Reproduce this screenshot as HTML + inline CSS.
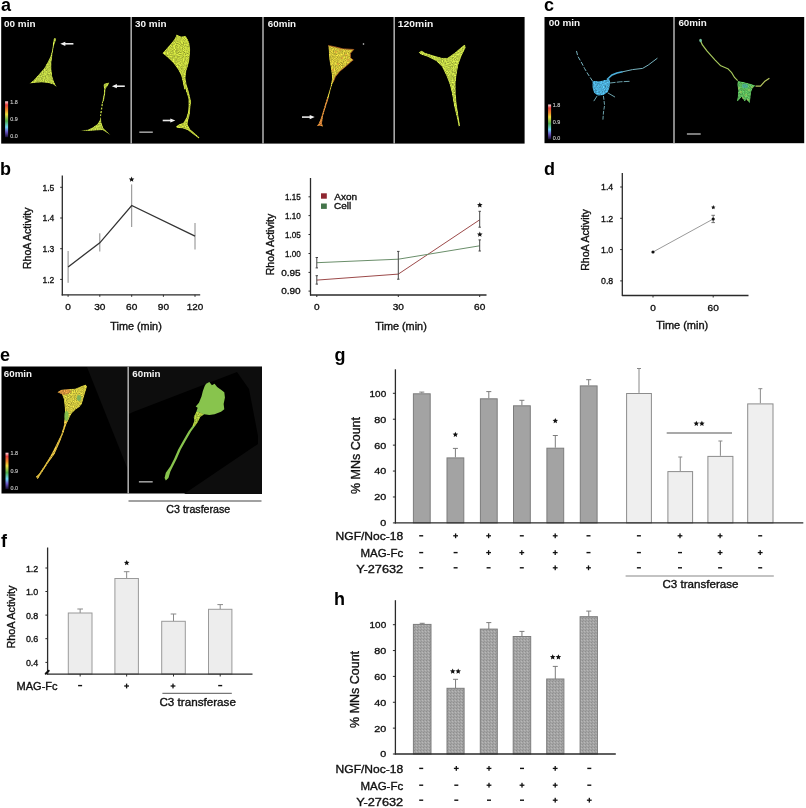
<!DOCTYPE html><html><head><meta charset="utf-8"><style>html,body{margin:0;padding:0;background:#fff;overflow:hidden;width:806px;height:808px;}svg{display:block;will-change:transform;}text{font-family:"Liberation Sans",sans-serif;}</style></head><body>
<svg width="806" height="808" viewBox="0 0 806 808">
<defs>
<linearGradient id="cbar" x1="0" y1="0" x2="0" y2="1"><stop offset="0" stop-color="#ffd8e0"/><stop offset="0.1" stop-color="#e84040"/><stop offset="0.24" stop-color="#f08a28"/><stop offset="0.36" stop-color="#f0e040"/><stop offset="0.55" stop-color="#50b050"/><stop offset="0.72" stop-color="#70d8f8"/><stop offset="0.85" stop-color="#6a58c8"/><stop offset="1" stop-color="#180c38"/></linearGradient>
<filter id="soft" x="-10%" y="-10%" width="120%" height="120%"><feGaussianBlur stdDeviation="0.35"/></filter>
<filter id="tex" x="-10%" y="-10%" width="120%" height="120%" color-interpolation-filters="sRGB"><feTurbulence type="fractalNoise" baseFrequency="0.9" numOctaves="2" seed="4" result="n"/><feColorMatrix in="n" type="matrix" values="1 0 0 0 0  1 0 0 0 0  1 0 0 0 0  0 0 0 0 1" result="g"/><feComposite in="SourceGraphic" in2="g" operator="arithmetic" k1="0.8" k2="0.56" k3="0" k4="0" result="m"/><feComposite in="m" in2="SourceAlpha" operator="in" result="c"/><feGaussianBlur in="c" stdDeviation="0.35"/></filter>
<pattern id="stip" width="3" height="3" patternUnits="userSpaceOnUse"><rect width="3" height="3" fill="#a4a4a4"/><rect x="0" y="0" width="1" height="1" fill="#8e8e8e"/><rect x="2" y="1" width="1" height="1" fill="#b8b8b8"/><rect x="1" y="2" width="1" height="1" fill="#969696"/></pattern>
</defs>
<rect width="806" height="808" fill="#fff"/>
<text x="1" y="10.5" font-size="18" text-anchor="start" font-weight="bold" fill="#000" >a</text>
<text x="544" y="10.5" font-size="18" text-anchor="start" font-weight="bold" fill="#000" >c</text>
<text x="0" y="175" font-size="18" text-anchor="start" font-weight="bold" fill="#000" >b</text>
<text x="544" y="174.5" font-size="18" text-anchor="start" font-weight="bold" fill="#000" >d</text>
<text x="0" y="361" font-size="18" text-anchor="start" font-weight="bold" fill="#000" >e</text>
<text x="1" y="547.3" font-size="18" text-anchor="start" font-weight="bold" fill="#000" >f</text>
<text x="334.5" y="360.5" font-size="18" text-anchor="start" font-weight="bold" fill="#000" >g</text>
<text x="334" y="604.5" font-size="18" text-anchor="start" font-weight="bold" fill="#000" >h</text>
<rect x="1.2" y="17" width="523.4" height="126.6" fill="#000" />
<rect x="130.39999999999998" y="17" width="1.6" height="126.6" fill="#a8a8a8" />
<rect x="262.2" y="17" width="1.6" height="126.6" fill="#a8a8a8" />
<rect x="393.4" y="17" width="1.6" height="126.6" fill="#a8a8a8" />
<text x="4" y="27.2" font-size="9" text-anchor="start" font-weight="bold" fill="#f4f4f4" textLength="31.5" lengthAdjust="spacingAndGlyphs" >00 min</text>
<text x="135" y="27" font-size="9" text-anchor="start" font-weight="bold" fill="#f4f4f4" textLength="31.5" lengthAdjust="spacingAndGlyphs" >30 min</text>
<text x="267.8" y="27" font-size="9" text-anchor="start" font-weight="bold" fill="#f4f4f4" textLength="28.3" lengthAdjust="spacingAndGlyphs" >60min</text>
<text x="397.8" y="27" font-size="9" text-anchor="start" font-weight="bold" fill="#f4f4f4" textLength="35.5" lengthAdjust="spacingAndGlyphs" >120min</text>
<rect x="5.1" y="101.3" width="3" height="35.89999999999999" fill="url(#cbar)" />
<text x="10.2" y="103.8" font-size="5.4" text-anchor="start" font-weight="normal" fill="#c4c4c4" stroke="#c4c4c4" stroke-width="0.15" >1.8</text>
<text x="10.2" y="121.25" font-size="5.4" text-anchor="start" font-weight="normal" fill="#c4c4c4" stroke="#c4c4c4" stroke-width="0.15" >0.9</text>
<text x="10.2" y="137.7" font-size="5.4" text-anchor="start" font-weight="normal" fill="#c4c4c4" stroke="#c4c4c4" stroke-width="0.15" >0.0</text>
<polygon points="54.25,38.06 56.29,38.4 55.95,40.44 54.25,45.2 52.89,52.01 52.21,57.45 51.53,62.21 51.53,69.01 52.21,75.82 54.25,81.94 56.97,87.38 53.57,84.66 48.81,83.3 42.01,82.62 33.84,82.96 29.08,83.64 33.16,80.58 38.61,74.46 44.05,68.33 47.45,62.21 50.17,56.77 51.87,50.65 52.89,43.84 53.57,39.08" fill="#bfd444" filter="url(#tex)"/>
<polygon points="103.79,83.76 109.55,82.22 108.01,85.68 105.71,88.75 105.33,93.36 104.17,100.26 102.26,104.1 101.49,104.49 102.64,99.5 103.79,93.36 104.17,88.75 103.41,85.68" fill="#bfd444" filter="url(#tex)"/>
<polyline points="102.3,104.1 101.6,108.5 101.1,112.5 100.4,116" stroke="#bfd444" stroke-width="1.3" stroke-dasharray="2 1.5" fill="none" filter="url(#soft)"/>
<polygon points="100.72,116.39 99.57,120.23 97.26,124.07 92.66,127.14 88.05,129.44 79.61,130.59 88.82,130.98 102.64,130.21 111.08,135.58 107.25,131.74 103.41,127.9 101.49,122.53 101.1,117.92" fill="#bfd444" filter="url(#tex)"/>
<line x1="64.3" y1="43.8" x2="73.4" y2="43.8" stroke="#e8e8e8" stroke-width="1.6"/>
<polygon points="60.3,43.8 65.3,41.699999999999996 65.3,45.9" fill="#f4f4f4" />
<line x1="115.9" y1="86.2" x2="124.8" y2="86.2" stroke="#e8e8e8" stroke-width="1.6"/>
<polygon points="111.9,86.2 116.9,84.10000000000001 116.9,88.3" fill="#f4f4f4" />
<polygon points="176.43,34.14 181.04,36.45 185.65,35.68 187.95,39.52 189.49,43.36 190.26,49.51 189.87,54.88 189.49,60.26 187.95,66.4 186.42,71.01 185.65,77.92 186.8,84.84 187.19,89.44 184.11,89.44 182.58,81.76 181.04,75.62 177.97,69.47 173.36,63.33 167.22,57.19 162.22,53.35 165.68,49.51 171.06,43.36 174.13,39.52 176.05,35.68" fill="#c6d63e" filter="url(#tex)"/>
<polygon points="186.94,85.0 189.05,92.06 191.17,101.23 190.47,108.29 189.76,115.35 188.35,120.29 187.64,124.52 190.47,129.46 194.7,132.99 199.64,137.58 198.93,138.63 193.29,134.4 187.64,130.17 182.7,128.4 177.06,128.05 175.65,126.64 178.47,124.52 183.41,122.4 186.23,117.46 188.0,111.82 188.35,106.17 188.35,99.11 186.23,92.06 184.47,85.0" fill="#c6d63e" filter="url(#tex)"/>
<line x1="162.7" y1="120.5" x2="171.3" y2="120.5" stroke="#e8e8e8" stroke-width="1.6"/>
<polygon points="175.3,120.5 170.3,118.4 170.3,122.6" fill="#f4f4f4" />
<rect x="139.3" y="131.4" width="13.5" height="1.6" fill="#9a9a9a" />
<polygon points="328.15,45.57 334.27,46.68 343.18,48.91 353.76,49.47 350.42,53.36 350.42,57.82 353.2,60.04 350.98,61.71 345.41,66.73 339.84,71.18 335.39,76.75 333.16,82.32 330.93,89.0 328.7,97.91 325.92,106.82 323.14,115.72 322.02,123.52 323.14,126.86 319.8,125.75 316.45,126.3 318.68,123.52 320.91,117.95 324.25,106.82 327.59,95.68 330.37,86.77 332.04,77.86 330.93,68.95 329.26,60.04 328.7,51.14" fill="#d6c83a" filter="url(#tex)"/>
<polygon points="328.7,97.91 325.92,106.82 323.14,115.72 322.02,123.52 323.14,126.86 319.8,125.75 316.45,126.3 318.68,123.52 320.91,117.95 324.25,106.82 327.03,97.91" fill="#e0883a" filter="url(#tex)"/>
<circle cx="336" cy="52" r="0.9" fill="#e08a38" opacity="0.7"/>
<circle cx="342" cy="58" r="0.9" fill="#e08a38" opacity="0.7"/>
<circle cx="338" cy="64" r="0.9" fill="#e08a38" opacity="0.7"/>
<circle cx="346" cy="55" r="0.9" fill="#e08a38" opacity="0.7"/>
<circle cx="333" cy="70" r="0.9" fill="#e08a38" opacity="0.7"/>
<circle cx="340" cy="50" r="0.9" fill="#e08a38" opacity="0.7"/>
<circle cx="348" cy="60" r="0.9" fill="#e08a38" opacity="0.7"/>
<polyline points="328.15,45.57 334.27,46.68 343.18,48.91 353.76,49.47 350.42,53.36 350.42,57.82 353.2,60.04 350.98,61.71 345.41,66.73 339.84,71.18 335.39,76.75 333.16,82.32" fill="none" stroke="#d8782c" stroke-width="0.9" opacity="0.8" filter="url(#soft)"/>
<line x1="302" y1="117.1" x2="310.7" y2="117.1" stroke="#e8e8e8" stroke-width="1.6"/>
<polygon points="314.7,117.1 309.7,115.0 309.7,119.19999999999999" fill="#f4f4f4" />
<circle cx="363.5" cy="44" r="0.8" fill="#ddd"/>
<polygon points="418.45,52.25 421.8,50.58 425.14,52.81 434.04,55.59 441.84,57.82 447.41,57.82 455.2,52.25 463.0,45.57 465.22,44.45 465.78,47.8 461.88,55.59 458.54,64.5 456.87,73.41 455.76,82.32 455.76,93.45 456.87,104.59 458.54,115.72 460.21,125.75 458.54,126.86 456.87,117.95 454.09,106.82 451.86,93.45 449.63,84.54 446.29,75.63 441.84,66.73 436.27,61.16 427.36,56.7 420.68,54.48" fill="#c4d846" filter="url(#tex)"/>
<rect x="544.5" y="17" width="259.7" height="126.2" fill="#000" />
<rect x="673.2" y="17" width="1.6" height="126.2" fill="#a8a8a8" />
<text x="548.7" y="26" font-size="9" text-anchor="start" font-weight="bold" fill="#f4f4f4" textLength="31.5" lengthAdjust="spacingAndGlyphs" >00 min</text>
<text x="678.4" y="26" font-size="9" text-anchor="start" font-weight="bold" fill="#f4f4f4" textLength="28.4" lengthAdjust="spacingAndGlyphs" >60min</text>
<rect x="548.0999999999999" y="104.5" width="3" height="34.69999999999999" fill="url(#cbar)" />
<text x="552.8" y="107.0" font-size="5.4" text-anchor="start" font-weight="normal" fill="#c4c4c4" stroke="#c4c4c4" stroke-width="0.15" >1.8</text>
<text x="552.8" y="123.85" font-size="5.4" text-anchor="start" font-weight="normal" fill="#c4c4c4" stroke="#c4c4c4" stroke-width="0.15" >0.9</text>
<text x="552.8" y="139.7" font-size="5.4" text-anchor="start" font-weight="normal" fill="#c4c4c4" stroke="#c4c4c4" stroke-width="0.15" >0.0</text>
<g filter="url(#soft)" stroke="#78b4c0" fill="none" stroke-linecap="round" stroke-linejoin="round">
<polyline points="592.3,80.7 587.9,74 584.5,68.4 582.3,64 577.8,56.2 576.1,49.5" stroke-width="1" stroke-dasharray="3.5 2.5"/>
<polyline points="622.5,71.8 632.5,69.6 642.6,68.4 648.2,65.1 657.1,58.4" stroke-width="1"/>
<polyline points="610.2,83 620.2,81.8 630.3,81.3" stroke-width="0.9" stroke-dasharray="5 2"/>
<polyline points="608,93 614.7,96.9" stroke-width="0.9"/>
<polyline points="603.5,96.4 604.6,105.3 603.5,112 602.9,119.8" stroke-width="0.9" stroke-dasharray="3 2"/>
<polyline points="596.8,96.4 594,100.8" stroke-width="0.9"/>
</g>
<polyline points="607,79.5 612,75 616.9,72.9 622.5,71.8" stroke="#4cb0dc" stroke-width="1.6" fill="none" filter="url(#soft)"/>
<polygon points="592.33,80.73 599.03,81.29 606.85,79.61 609.08,77.38 610.2,81.85 609.64,87.43 607.96,91.9 603.5,95.25 597.91,95.8 594.01,93.01 592.33,87.43" fill="#4cb0dc" filter="url(#tex)"/>
<polyline points="700,39.5 702.4,44.9 706.9,50.9 714.9,59.8 720.8,65.8 727.8,68.7 731.7,72.7 734.7,77.7 737.7,80.7" stroke="#a6c85c" stroke-width="1.2" fill="none" stroke-linejoin="round" filter="url(#soft)"/>
<ellipse cx="700.6" cy="40.5" rx="1.3" ry="1.8" fill="#70c0a0" filter="url(#soft)"/>
<polyline points="755.5,86.1 760.5,86.1 764.5,81.6 769.4,78.2" stroke="#b8c860" stroke-width="1.2" fill="none" stroke-linejoin="round" filter="url(#soft)"/>
<polygon points="737.68,80.66 744.63,82.15 750.58,83.64 755.55,85.62 752.57,88.6 751.08,92.57 750.58,98.52 749.59,103.49 746.61,99.52 744.63,101.5 741.65,97.03 738.67,100.51 736.69,101.5 737.68,96.54 738.18,90.58 737.18,84.63" fill="#5cbc5c" filter="url(#tex)"/>
<ellipse cx="745" cy="86" rx="3" ry="2.2" fill="#4aa8a0" opacity="0.7" filter="url(#soft)"/>
<circle cx="741" cy="92" r="0.8" fill="#c8d860" opacity="0.9"/>
<circle cx="746" cy="95" r="0.8" fill="#c8d860" opacity="0.9"/>
<circle cx="749" cy="90" r="0.8" fill="#c8d860" opacity="0.9"/>
<circle cx="743" cy="98" r="0.8" fill="#c8d860" opacity="0.9"/>
<circle cx="739" cy="88" r="0.8" fill="#c8d860" opacity="0.9"/>
<circle cx="748" cy="100" r="0.8" fill="#c8d860" opacity="0.9"/>
<circle cx="752" cy="87" r="0.8" fill="#c8d860" opacity="0.9"/>
<rect x="686.9" y="133.2" width="13.8" height="1.6" fill="#9a9a9a" />
<rect x="1.5" y="366.5" width="260.5" height="127" fill="#000" />
<polygon points="87,367 128,367 128,470" fill="#0d0d0d" />
<polygon points="129,367 262,367 262,494 184,494 258,444 258,436 249,389 237,372 133,412 129,414" fill="#0d0d0d" />
<rect x="127.4" y="366.5" width="1.6" height="127" fill="#a8a8a8" />
<text x="3.8" y="376.8" font-size="9" text-anchor="start" font-weight="bold" fill="#f4f4f4" textLength="28.2" lengthAdjust="spacingAndGlyphs" >60min</text>
<text x="132.3" y="376.8" font-size="9" text-anchor="start" font-weight="bold" fill="#f4f4f4" textLength="28.2" lengthAdjust="spacingAndGlyphs" >60min</text>
<rect x="5.5" y="452.7" width="3" height="36.400000000000034" fill="url(#cbar)" />
<text x="10.5" y="455.2" font-size="5.4" text-anchor="start" font-weight="normal" fill="#c4c4c4" stroke="#c4c4c4" stroke-width="0.15" >1.8</text>
<text x="10.5" y="472.9" font-size="5.4" text-anchor="start" font-weight="normal" fill="#c4c4c4" stroke="#c4c4c4" stroke-width="0.15" >0.9</text>
<text x="10.5" y="489.6" font-size="5.4" text-anchor="start" font-weight="normal" fill="#c4c4c4" stroke="#c4c4c4" stroke-width="0.15" >0.0</text>
<polygon points="57.27,392.34 61.17,389.74 68.96,389.09 75.45,388.44 81.95,385.84 85.84,384.55 87.14,386.49 85.19,392.99 83.25,399.48 81.95,404.03 79.35,407.27 75.45,409.87 71.56,413.77 68.96,418.96 66.36,424.16 63.77,431.95 59.87,442.34 54.68,454.03 48.18,463.12 42.99,470.91 39.74,476.1 37.79,479.35 35.84,476.75 39.09,473.51 44.29,465.71 50.78,455.32 55.97,444.94 61.17,434.55 63.77,425.45 64.42,418.96 65.06,412.47 64.42,405.97 63.77,399.48 61.82,394.29" fill="#d6cc40" filter="url(#tex)"/>
<polygon points="68.96,418.96 66.36,424.16 63.77,431.95 59.87,442.34 54.68,454.03 48.18,463.12 42.99,470.91 39.74,476.1 37.79,479.35 35.84,476.75 39.09,473.51 44.29,465.71 50.78,455.32 55.97,444.94 61.17,434.55 63.77,425.45 64.42,418.96" fill="#e0bc40" filter="url(#tex)"/>
<polygon points="57.27,392.34 61.17,389.74 68.96,389.09 71.56,391.69 67.66,394.29 63.12,394.94" fill="#e09a40" filter="url(#tex)"/>
<ellipse cx="66.5" cy="416" rx="2.2" ry="5" fill="#78bc50" opacity="0.85" filter="url(#soft)"/>
<ellipse cx="79" cy="398" rx="2.2" ry="3" fill="#6cb060" opacity="0.8" filter="url(#soft)"/>
<polygon points="206.1,383.84 209.35,381.9 211.95,385.14 214.55,383.84 217.14,387.09 221.04,389.69 224.29,392.29 224.94,397.48 223.64,403.97 224.29,409.17 221.04,411.77 214.55,414.36 209.35,415.01 204.16,414.36 200.26,416.96 197.66,422.16 195.06,426.05 191.17,431.25 185.97,440.34 180.78,449.43 176.88,458.52 172.99,466.31 170.39,471.51 168.44,478.0 165.84,480.6 164.55,478.0 165.84,472.81 170.39,466.31 174.29,458.52 178.18,449.43 183.38,440.34 188.57,431.25 192.47,426.05 194.42,420.86 193.77,416.96 196.36,411.77 197.66,407.87 195.71,406.57 198.96,402.68 201.56,396.18 202.86,390.99 204.81,385.79" fill="#88c44e" filter="url(#soft)"/>
<polygon points="204.16,414.36 200.26,416.96 197.66,422.16 195.06,426.05 192.47,426.05 194.42,420.86 193.77,416.96 196.36,411.77 198.96,412.03" fill="#b4d040" filter="url(#tex)"/>
<rect x="138.9" y="481" width="13.8" height="1.6" fill="#9a9a9a" />
<line x1="128.5" y1="501" x2="261.5" y2="501" stroke="#444" stroke-width="1.2"/>
<text x="198.3" y="513.1" font-size="10.5" text-anchor="middle" font-weight="normal" fill="#111" stroke="#111" stroke-width="0.35" textLength="64" lengthAdjust="spacingAndGlyphs" >C3 trasferase</text>
<line x1="62.3" y1="175.5" x2="62.3" y2="295.4" stroke="#2a2a2a" stroke-width="1.3"/>
<line x1="61.7" y1="294.8" x2="200.2" y2="294.8" stroke="#2a2a2a" stroke-width="1.3"/>
<line x1="60.2" y1="187.3" x2="62.3" y2="187.3" stroke="#2a2a2a" stroke-width="1"/>
<text x="54.3" y="190.70000000000002" font-size="9.9" text-anchor="end" font-weight="normal" fill="#111" stroke="#111" stroke-width="0.35" textLength="11.8" lengthAdjust="spacingAndGlyphs" >1.5</text>
<line x1="60.2" y1="218" x2="62.3" y2="218" stroke="#2a2a2a" stroke-width="1"/>
<text x="54.3" y="221.4" font-size="9.9" text-anchor="end" font-weight="normal" fill="#111" stroke="#111" stroke-width="0.35" textLength="11.8" lengthAdjust="spacingAndGlyphs" >1.4</text>
<line x1="60.2" y1="248.7" x2="62.3" y2="248.7" stroke="#2a2a2a" stroke-width="1"/>
<text x="54.3" y="252.1" font-size="9.9" text-anchor="end" font-weight="normal" fill="#111" stroke="#111" stroke-width="0.35" textLength="11.8" lengthAdjust="spacingAndGlyphs" >1.3</text>
<line x1="60.2" y1="279.4" x2="62.3" y2="279.4" stroke="#2a2a2a" stroke-width="1"/>
<text x="54.3" y="282.79999999999995" font-size="9.9" text-anchor="end" font-weight="normal" fill="#111" stroke="#111" stroke-width="0.35" textLength="11.8" lengthAdjust="spacingAndGlyphs" >1.2</text>
<line x1="68.1" y1="294.8" x2="68.1" y2="296.8" stroke="#2a2a2a" stroke-width="1"/>
<text x="68.1" y="310.2" font-size="9.9" text-anchor="middle" font-weight="normal" fill="#111" stroke="#111" stroke-width="0.35" textLength="5.6" lengthAdjust="spacingAndGlyphs" >0</text>
<line x1="99.8" y1="294.8" x2="99.8" y2="296.8" stroke="#2a2a2a" stroke-width="1"/>
<text x="99.8" y="310.2" font-size="9.9" text-anchor="middle" font-weight="normal" fill="#111" stroke="#111" stroke-width="0.35" textLength="11.2" lengthAdjust="spacingAndGlyphs" >30</text>
<line x1="131.7" y1="294.8" x2="131.7" y2="296.8" stroke="#2a2a2a" stroke-width="1"/>
<text x="131.7" y="310.2" font-size="9.9" text-anchor="middle" font-weight="normal" fill="#111" stroke="#111" stroke-width="0.35" textLength="11.2" lengthAdjust="spacingAndGlyphs" >60</text>
<line x1="163.4" y1="294.8" x2="163.4" y2="296.8" stroke="#2a2a2a" stroke-width="1"/>
<text x="163.4" y="310.2" font-size="9.9" text-anchor="middle" font-weight="normal" fill="#111" stroke="#111" stroke-width="0.35" textLength="11.2" lengthAdjust="spacingAndGlyphs" >90</text>
<line x1="195" y1="294.8" x2="195" y2="296.8" stroke="#2a2a2a" stroke-width="1"/>
<text x="195" y="310.2" font-size="9.9" text-anchor="middle" font-weight="normal" fill="#111" stroke="#111" stroke-width="0.35" textLength="16.5" lengthAdjust="spacingAndGlyphs" >120</text>
<text x="136" y="329.6" font-size="10.3" text-anchor="middle" font-weight="normal" fill="#111" stroke="#111" stroke-width="0.35" textLength="51.5" lengthAdjust="spacingAndGlyphs" >Time (min)</text>
<text x="0" y="0" font-size="10" text-anchor="middle" fill="#111" transform="translate(27,238.3) rotate(-90)" dominant-baseline="central" stroke="#111" stroke-width="0.35" textLength="61.5" lengthAdjust="spacingAndGlyphs">RhoA Activity</text>
<line x1="68.1" y1="251" x2="68.1" y2="282.8" stroke="#8a8a8a" stroke-width="1"/>
<line x1="99.8" y1="233.3" x2="99.8" y2="251.5" stroke="#8a8a8a" stroke-width="1"/>
<line x1="131.7" y1="184.4" x2="131.7" y2="227" stroke="#8a8a8a" stroke-width="1"/>
<line x1="195" y1="223" x2="195" y2="249.5" stroke="#8a8a8a" stroke-width="1"/>
<polyline points="68.1,266.9 99.8,242.8 131.7,205.5 195,236.2" fill="none" stroke="#333" stroke-width="1.3"/>
<polygon points="131.6,176.6 132.39,178.41 134.36,178.6 132.88,179.92 133.3,181.85 131.6,180.85 129.9,181.85 130.32,179.92 128.84,178.6 130.81,178.41" fill="#111" />
<line x1="310.5" y1="178" x2="310.5" y2="295.5" stroke="#2a2a2a" stroke-width="1.3"/>
<line x1="310" y1="295" x2="486.5" y2="295" stroke="#2a2a2a" stroke-width="1.3"/>
<line x1="308.5" y1="196.8" x2="310.5" y2="196.8" stroke="#2a2a2a" stroke-width="1"/>
<text x="300.7" y="200.10000000000002" font-size="9.9" text-anchor="end" font-weight="normal" fill="#111" stroke="#111" stroke-width="0.35" textLength="15.8" lengthAdjust="spacingAndGlyphs" >1.15</text>
<line x1="308.5" y1="215.6" x2="310.5" y2="215.6" stroke="#2a2a2a" stroke-width="1"/>
<text x="300.7" y="218.9" font-size="9.9" text-anchor="end" font-weight="normal" fill="#111" stroke="#111" stroke-width="0.35" textLength="15.8" lengthAdjust="spacingAndGlyphs" >1.10</text>
<line x1="308.5" y1="234.5" x2="310.5" y2="234.5" stroke="#2a2a2a" stroke-width="1"/>
<text x="300.7" y="237.8" font-size="9.9" text-anchor="end" font-weight="normal" fill="#111" stroke="#111" stroke-width="0.35" textLength="15.8" lengthAdjust="spacingAndGlyphs" >1.05</text>
<line x1="308.5" y1="253.5" x2="310.5" y2="253.5" stroke="#2a2a2a" stroke-width="1"/>
<text x="300.7" y="256.8" font-size="9.9" text-anchor="end" font-weight="normal" fill="#111" stroke="#111" stroke-width="0.35" textLength="15.8" lengthAdjust="spacingAndGlyphs" >1.00</text>
<line x1="308.5" y1="272.4" x2="310.5" y2="272.4" stroke="#2a2a2a" stroke-width="1"/>
<text x="300.7" y="275.7" font-size="9.9" text-anchor="end" font-weight="normal" fill="#111" stroke="#111" stroke-width="0.35" textLength="19.5" lengthAdjust="spacingAndGlyphs" >0.95</text>
<line x1="308.5" y1="291.1" x2="310.5" y2="291.1" stroke="#2a2a2a" stroke-width="1"/>
<text x="300.7" y="294.40000000000003" font-size="9.9" text-anchor="end" font-weight="normal" fill="#111" stroke="#111" stroke-width="0.35" textLength="19.5" lengthAdjust="spacingAndGlyphs" >0.90</text>
<line x1="316.8" y1="295" x2="316.8" y2="297" stroke="#2a2a2a" stroke-width="1"/>
<text x="316.8" y="310.2" font-size="9.9" text-anchor="middle" font-weight="normal" fill="#111" stroke="#111" stroke-width="0.35" textLength="5.6" lengthAdjust="spacingAndGlyphs" >0</text>
<line x1="398.3" y1="295" x2="398.3" y2="297" stroke="#2a2a2a" stroke-width="1"/>
<text x="398.3" y="310.2" font-size="9.9" text-anchor="middle" font-weight="normal" fill="#111" stroke="#111" stroke-width="0.35" textLength="11.2" lengthAdjust="spacingAndGlyphs" >30</text>
<line x1="479.7" y1="295" x2="479.7" y2="297" stroke="#2a2a2a" stroke-width="1"/>
<text x="479.7" y="310.2" font-size="9.9" text-anchor="middle" font-weight="normal" fill="#111" stroke="#111" stroke-width="0.35" textLength="11.2" lengthAdjust="spacingAndGlyphs" >60</text>
<text x="401" y="329.5" font-size="10.3" text-anchor="middle" font-weight="normal" fill="#111" stroke="#111" stroke-width="0.35" textLength="51.5" lengthAdjust="spacingAndGlyphs" >Time (min)</text>
<text x="0" y="0" font-size="10" text-anchor="middle" fill="#111" transform="translate(270,244.5) rotate(-90)" dominant-baseline="central" stroke="#111" stroke-width="0.35" textLength="61.5" lengthAdjust="spacingAndGlyphs">RhoA Activity</text>
<polyline points="316.8,280.1 398.3,274.1 479.7,219.8" fill="none" stroke="#9c4a4a" stroke-width="1"/>
<polyline points="316.8,262.7 398.3,259.2 479.7,245.8" fill="none" stroke="#6a8e6a" stroke-width="1"/>
<line x1="316.8" y1="275.7" x2="316.8" y2="284.1" stroke="#444" stroke-width="1"/>
<line x1="315.6" y1="275.7" x2="318.0" y2="275.7" stroke="#444" stroke-width="1"/>
<line x1="315.6" y1="284.1" x2="318.0" y2="284.1" stroke="#444" stroke-width="1"/>
<line x1="316.8" y1="257.5" x2="316.8" y2="267.9" stroke="#444" stroke-width="1"/>
<line x1="315.6" y1="257.5" x2="318.0" y2="257.5" stroke="#444" stroke-width="1"/>
<line x1="315.6" y1="267.9" x2="318.0" y2="267.9" stroke="#444" stroke-width="1"/>
<line x1="398.3" y1="251.4" x2="398.3" y2="279.2" stroke="#444" stroke-width="1"/>
<line x1="397.1" y1="251.4" x2="399.5" y2="251.4" stroke="#444" stroke-width="1"/>
<line x1="397.1" y1="279.2" x2="399.5" y2="279.2" stroke="#444" stroke-width="1"/>
<line x1="479.7" y1="211.3" x2="479.7" y2="227.2" stroke="#444" stroke-width="1"/>
<line x1="478.5" y1="211.3" x2="480.9" y2="211.3" stroke="#444" stroke-width="1"/>
<line x1="478.5" y1="227.2" x2="480.9" y2="227.2" stroke="#444" stroke-width="1"/>
<line x1="479.7" y1="239.9" x2="479.7" y2="251" stroke="#444" stroke-width="1"/>
<line x1="478.5" y1="239.9" x2="480.9" y2="239.9" stroke="#444" stroke-width="1"/>
<line x1="478.5" y1="251" x2="480.9" y2="251" stroke="#444" stroke-width="1"/>
<polygon points="479.8,202.3 480.59,204.11 482.56,204.3 481.08,205.62 481.5,207.55 479.8,206.55 478.1,207.55 478.52,205.62 477.04,204.3 479.01,204.11" fill="#111" />
<polygon points="479.8,231.6 480.59,233.41 482.56,233.6 481.08,234.92 481.5,236.85 479.8,235.85 478.1,236.85 478.52,234.92 477.04,233.6 479.01,233.41" fill="#111" />
<rect x="321" y="193.3" width="5.8" height="5.4" fill="#8e2630" />
<rect x="321" y="203.5" width="5.8" height="5.4" fill="#44744a" />
<text x="334.3" y="199.6" font-size="9.6" text-anchor="start" font-weight="normal" fill="#111" stroke="#111" stroke-width="0.35" textLength="22.9" lengthAdjust="spacingAndGlyphs" >Axon</text>
<text x="334.1" y="209.3" font-size="9.6" text-anchor="start" font-weight="normal" fill="#111" stroke="#111" stroke-width="0.35" textLength="17.2" lengthAdjust="spacingAndGlyphs" >Cell</text>
<line x1="622.3" y1="173" x2="622.3" y2="296" stroke="#2a2a2a" stroke-width="1.3"/>
<line x1="622" y1="295.5" x2="748.5" y2="295.5" stroke="#2a2a2a" stroke-width="1.3"/>
<line x1="620.2" y1="187" x2="622.3" y2="187" stroke="#2a2a2a" stroke-width="1"/>
<text x="613.2" y="190.3" font-size="9.9" text-anchor="end" font-weight="normal" fill="#111" stroke="#111" stroke-width="0.35" textLength="12.2" lengthAdjust="spacingAndGlyphs" >1.4</text>
<line x1="620.2" y1="218.3" x2="622.3" y2="218.3" stroke="#2a2a2a" stroke-width="1"/>
<text x="613.2" y="221.60000000000002" font-size="9.9" text-anchor="end" font-weight="normal" fill="#111" stroke="#111" stroke-width="0.35" textLength="12.2" lengthAdjust="spacingAndGlyphs" >1.2</text>
<line x1="620.2" y1="249.6" x2="622.3" y2="249.6" stroke="#2a2a2a" stroke-width="1"/>
<text x="613.2" y="252.9" font-size="9.9" text-anchor="end" font-weight="normal" fill="#111" stroke="#111" stroke-width="0.35" textLength="12.2" lengthAdjust="spacingAndGlyphs" >1.0</text>
<line x1="620.2" y1="280.9" x2="622.3" y2="280.9" stroke="#2a2a2a" stroke-width="1"/>
<text x="613.2" y="284.2" font-size="9.9" text-anchor="end" font-weight="normal" fill="#111" stroke="#111" stroke-width="0.35" textLength="12.2" lengthAdjust="spacingAndGlyphs" >0.8</text>
<line x1="653" y1="295.5" x2="653" y2="297.5" stroke="#2a2a2a" stroke-width="1"/>
<text x="653" y="310.6" font-size="9.9" text-anchor="middle" font-weight="normal" fill="#111" stroke="#111" stroke-width="0.35" textLength="5.6" lengthAdjust="spacingAndGlyphs" >0</text>
<line x1="713.2" y1="295.5" x2="713.2" y2="297.5" stroke="#2a2a2a" stroke-width="1"/>
<text x="713.2" y="310.6" font-size="9.9" text-anchor="middle" font-weight="normal" fill="#111" stroke="#111" stroke-width="0.35" textLength="11.2" lengthAdjust="spacingAndGlyphs" >60</text>
<text x="682.2" y="329.3" font-size="10.3" text-anchor="middle" font-weight="normal" fill="#111" stroke="#111" stroke-width="0.35" textLength="52" lengthAdjust="spacingAndGlyphs" >Time (min)</text>
<text x="0" y="0" font-size="10" text-anchor="middle" fill="#111" transform="translate(585.7,240) rotate(-90)" dominant-baseline="central" stroke="#111" stroke-width="0.35" textLength="61.5" lengthAdjust="spacingAndGlyphs">RhoA Activity</text>
<line x1="653" y1="252" x2="713.2" y2="219" stroke="#9a9a9a" stroke-width="1"/>
<line x1="713.2" y1="215.3" x2="713.2" y2="222.6" stroke="#555" stroke-width="0.8"/>
<line x1="711.4000000000001" y1="215.3" x2="715.0" y2="215.3" stroke="#555" stroke-width="0.8"/>
<line x1="711.4000000000001" y1="222.6" x2="715.0" y2="222.6" stroke="#555" stroke-width="0.8"/>
<circle cx="653" cy="252" r="1.6" fill="#111"/><circle cx="713.2" cy="219" r="1.6" fill="#111"/>
<polygon points="713.3,205.1 713.92,206.55 715.49,206.69 714.3,207.72 714.65,209.26 713.3,208.45 711.95,209.26 712.3,207.72 711.11,206.69 712.68,206.55" fill="#111" />
<line x1="47.6" y1="547.5" x2="47.6" y2="674.5" stroke="#2a2a2a" stroke-width="1.3"/>
<path d="M45.7,673.8 L48.7,670.7" stroke="#111" stroke-width="2" stroke-linecap="round"/>
<line x1="45.4" y1="568" x2="47.6" y2="568" stroke="#2a2a2a" stroke-width="1"/>
<text x="38.3" y="571.5" font-size="9.6" text-anchor="end" font-weight="normal" fill="#111" stroke="#111" stroke-width="0.35" textLength="12.4" lengthAdjust="spacingAndGlyphs" >1.2</text>
<line x1="45.4" y1="591.5" x2="47.6" y2="591.5" stroke="#2a2a2a" stroke-width="1"/>
<text x="38.3" y="595.0" font-size="9.6" text-anchor="end" font-weight="normal" fill="#111" stroke="#111" stroke-width="0.35" textLength="12.4" lengthAdjust="spacingAndGlyphs" >1.0</text>
<line x1="45.4" y1="615.1" x2="47.6" y2="615.1" stroke="#2a2a2a" stroke-width="1"/>
<text x="38.3" y="618.6" font-size="9.6" text-anchor="end" font-weight="normal" fill="#111" stroke="#111" stroke-width="0.35" textLength="12.4" lengthAdjust="spacingAndGlyphs" >0.8</text>
<line x1="45.4" y1="638.7" x2="47.6" y2="638.7" stroke="#2a2a2a" stroke-width="1"/>
<text x="38.3" y="642.2" font-size="9.6" text-anchor="end" font-weight="normal" fill="#111" stroke="#111" stroke-width="0.35" textLength="12.4" lengthAdjust="spacingAndGlyphs" >0.6</text>
<line x1="45.4" y1="662.4" x2="47.6" y2="662.4" stroke="#2a2a2a" stroke-width="1"/>
<text x="38.3" y="665.9" font-size="9.6" text-anchor="end" font-weight="normal" fill="#111" stroke="#111" stroke-width="0.35" textLength="12.4" lengthAdjust="spacingAndGlyphs" >0.4</text>
<line x1="80.15" y1="609" x2="80.15" y2="613" stroke="#8a8a8a" stroke-width="1"/>
<line x1="77.35000000000001" y1="609" x2="82.95" y2="609" stroke="#8a8a8a" stroke-width="1"/>
<rect x="68.3" y="613" width="23.700000000000003" height="61" fill="#ededed" stroke="#9a9a9a" stroke-width="1" />
<line x1="80.15" y1="674" x2="80.15" y2="676.5" stroke="#2a2a2a" stroke-width="1"/>
<line x1="126.65" y1="571.7" x2="126.65" y2="578.5" stroke="#8a8a8a" stroke-width="1"/>
<line x1="123.85000000000001" y1="571.7" x2="129.45000000000002" y2="571.7" stroke="#8a8a8a" stroke-width="1"/>
<rect x="114.9" y="578.5" width="23.5" height="95.5" fill="#ededed" stroke="#9a9a9a" stroke-width="1" />
<line x1="126.65" y1="674" x2="126.65" y2="676.5" stroke="#2a2a2a" stroke-width="1"/>
<line x1="173.5" y1="614" x2="173.5" y2="621.3" stroke="#8a8a8a" stroke-width="1"/>
<line x1="170.7" y1="614" x2="176.3" y2="614" stroke="#8a8a8a" stroke-width="1"/>
<rect x="161.7" y="621.3" width="23.600000000000023" height="52.700000000000045" fill="#ededed" stroke="#9a9a9a" stroke-width="1" />
<line x1="173.5" y1="674" x2="173.5" y2="676.5" stroke="#2a2a2a" stroke-width="1"/>
<line x1="220.2" y1="604.6" x2="220.2" y2="609.3" stroke="#8a8a8a" stroke-width="1"/>
<line x1="217.39999999999998" y1="604.6" x2="223.0" y2="604.6" stroke="#8a8a8a" stroke-width="1"/>
<rect x="208.5" y="609.3" width="23.400000000000006" height="64.70000000000005" fill="#ededed" stroke="#9a9a9a" stroke-width="1" />
<line x1="220.2" y1="674" x2="220.2" y2="676.5" stroke="#2a2a2a" stroke-width="1"/>
<line x1="47" y1="674.2" x2="252.5" y2="674.2" stroke="#2a2a2a" stroke-width="1.3"/>
<polygon points="126.7,559.9 127.49,561.71 129.46,561.9 127.98,563.22 128.4,565.15 126.7,564.15 125.0,565.15 125.42,563.22 123.94,561.9 125.91,561.71" fill="#111" />
<text x="16.6" y="690.1" font-size="10.6" text-anchor="start" font-weight="normal" fill="#111" stroke="#111" stroke-width="0.35" textLength="41" lengthAdjust="spacingAndGlyphs" >MAG-Fc</text>
<rect x="78.1" y="684.9" width="4" height="1.4" fill="#111" />
<rect x="124.2" y="685.35" width="4.8" height="1.3" fill="#111" />
<rect x="125.95" y="683.6" width="1.3" height="4.8" fill="#111" />
<rect x="170.6" y="685.35" width="4.8" height="1.3" fill="#111" />
<rect x="172.35" y="683.6" width="1.3" height="4.8" fill="#111" />
<rect x="218.2" y="684.9" width="4" height="1.4" fill="#111" />
<line x1="162.4" y1="693.3" x2="231.8" y2="693.3" stroke="#777" stroke-width="1.2"/>
<text x="197.7" y="705.6" font-size="10.5" text-anchor="middle" font-weight="normal" fill="#111" stroke="#111" stroke-width="0.35" textLength="76.5" lengthAdjust="spacingAndGlyphs" >C3 transferase</text>
<text x="0" y="0" font-size="10.5" text-anchor="middle" fill="#111" transform="translate(10.7,617) rotate(-90)" dominant-baseline="central" stroke="#111" stroke-width="0.35" textLength="63" lengthAdjust="spacingAndGlyphs">RhoA Activity</text>
<line x1="395.4" y1="369.3" x2="395.4" y2="523.5" stroke="#2a2a2a" stroke-width="1.3"/>
<line x1="392.9" y1="393.3" x2="395.4" y2="393.3" stroke="#2a2a2a" stroke-width="1"/>
<text x="386.2" y="396.7" font-size="9.9" text-anchor="end" font-weight="normal" fill="#111" stroke="#111" stroke-width="0.35" textLength="16.6" lengthAdjust="spacingAndGlyphs" >100</text>
<line x1="392.9" y1="419.22" x2="395.4" y2="419.22" stroke="#2a2a2a" stroke-width="1"/>
<text x="386.2" y="422.62" font-size="9.9" text-anchor="end" font-weight="normal" fill="#111" stroke="#111" stroke-width="0.35" textLength="12" lengthAdjust="spacingAndGlyphs" >80</text>
<line x1="392.9" y1="445.14" x2="395.4" y2="445.14" stroke="#2a2a2a" stroke-width="1"/>
<text x="386.2" y="448.53999999999996" font-size="9.9" text-anchor="end" font-weight="normal" fill="#111" stroke="#111" stroke-width="0.35" textLength="12" lengthAdjust="spacingAndGlyphs" >60</text>
<line x1="392.9" y1="471.06" x2="395.4" y2="471.06" stroke="#2a2a2a" stroke-width="1"/>
<text x="386.2" y="474.46" font-size="9.9" text-anchor="end" font-weight="normal" fill="#111" stroke="#111" stroke-width="0.35" textLength="12" lengthAdjust="spacingAndGlyphs" >40</text>
<line x1="392.9" y1="496.97999999999996" x2="395.4" y2="496.97999999999996" stroke="#2a2a2a" stroke-width="1"/>
<text x="386.2" y="500.37999999999994" font-size="9.9" text-anchor="end" font-weight="normal" fill="#111" stroke="#111" stroke-width="0.35" textLength="12" lengthAdjust="spacingAndGlyphs" >20</text>
<line x1="392.9" y1="522.9" x2="395.4" y2="522.9" stroke="#2a2a2a" stroke-width="1"/>
<text x="386.2" y="526.3" font-size="9.9" text-anchor="end" font-weight="normal" fill="#111" stroke="#111" stroke-width="0.35" textLength="6" lengthAdjust="spacingAndGlyphs" >0</text>
<text x="0" y="0" font-size="12" text-anchor="middle" fill="#111" transform="translate(356,455.5) rotate(-90)" dominant-baseline="central" stroke="#111" stroke-width="0.35" textLength="77" lengthAdjust="spacingAndGlyphs">% MNs Count</text>
<line x1="421.8" y1="392.1" x2="421.8" y2="393.3" stroke="#7c7c7c" stroke-width="1"/>
<line x1="419.3" y1="392.1" x2="424.3" y2="392.1" stroke="#7c7c7c" stroke-width="1"/>
<rect x="413.40000000000003" y="393.8" width="16.8" height="129.09999999999997" fill="#a3a3a3" stroke="#7c7c7c" stroke-width="1" />
<line x1="455.4" y1="448.4" x2="455.4" y2="457.4" stroke="#7c7c7c" stroke-width="1"/>
<line x1="452.9" y1="448.4" x2="457.9" y2="448.4" stroke="#7c7c7c" stroke-width="1"/>
<rect x="447.0" y="457.9" width="16.8" height="65.0" fill="#a3a3a3" stroke="#7c7c7c" stroke-width="1" />
<line x1="488.8" y1="391.6" x2="488.8" y2="398.3" stroke="#7c7c7c" stroke-width="1"/>
<line x1="486.3" y1="391.6" x2="491.3" y2="391.6" stroke="#7c7c7c" stroke-width="1"/>
<rect x="480.40000000000003" y="398.8" width="16.8" height="124.09999999999997" fill="#a3a3a3" stroke="#7c7c7c" stroke-width="1" />
<line x1="521.9" y1="400.3" x2="521.9" y2="405.3" stroke="#7c7c7c" stroke-width="1"/>
<line x1="519.4" y1="400.3" x2="524.4" y2="400.3" stroke="#7c7c7c" stroke-width="1"/>
<rect x="513.5" y="405.8" width="16.8" height="117.09999999999997" fill="#a3a3a3" stroke="#7c7c7c" stroke-width="1" />
<line x1="555.3" y1="435.5" x2="555.3" y2="447.7" stroke="#7c7c7c" stroke-width="1"/>
<line x1="552.8" y1="435.5" x2="557.8" y2="435.5" stroke="#7c7c7c" stroke-width="1"/>
<rect x="546.9" y="448.2" width="16.8" height="74.69999999999999" fill="#a3a3a3" stroke="#7c7c7c" stroke-width="1" />
<line x1="588.7" y1="379.7" x2="588.7" y2="385.4" stroke="#7c7c7c" stroke-width="1"/>
<line x1="586.2" y1="379.7" x2="591.2" y2="379.7" stroke="#7c7c7c" stroke-width="1"/>
<rect x="580.3000000000001" y="385.9" width="16.8" height="137.0" fill="#a3a3a3" stroke="#7c7c7c" stroke-width="1" />
<line x1="639.0" y1="368.5" x2="639.0" y2="392.9" stroke="#888" stroke-width="1"/>
<line x1="637.0" y1="368.5" x2="641.0" y2="368.5" stroke="#888" stroke-width="1"/>
<rect x="626.6" y="393.5" width="24.8" height="129.4" fill="#efefef" stroke="#8c8c8c" stroke-width="1" />
<line x1="680.25" y1="457" x2="680.25" y2="471" stroke="#888" stroke-width="1"/>
<line x1="678.25" y1="457" x2="682.25" y2="457" stroke="#888" stroke-width="1"/>
<rect x="667.9" y="471.6" width="24.70000000000009" height="51.299999999999976" fill="#efefef" stroke="#8c8c8c" stroke-width="1" />
<line x1="720.4" y1="441" x2="720.4" y2="455.8" stroke="#888" stroke-width="1"/>
<line x1="718.4" y1="441" x2="722.4" y2="441" stroke="#888" stroke-width="1"/>
<rect x="707.9" y="456.40000000000003" width="25.000000000000046" height="66.49999999999997" fill="#efefef" stroke="#8c8c8c" stroke-width="1" />
<line x1="760.35" y1="388.7" x2="760.35" y2="403.3" stroke="#888" stroke-width="1"/>
<line x1="758.35" y1="388.7" x2="762.35" y2="388.7" stroke="#888" stroke-width="1"/>
<rect x="747.7" y="403.90000000000003" width="25.3" height="118.99999999999997" fill="#efefef" stroke="#8c8c8c" stroke-width="1" />
<line x1="394.8" y1="522.9" x2="803.3" y2="522.9" stroke="#2a2a2a" stroke-width="1.3"/>
<polygon points="455.4,431.7 456.19,433.51 458.16,433.7 456.68,435.02 457.1,436.95 455.4,435.95 453.7,436.95 454.12,435.02 452.64,433.7 454.61,433.51" fill="#111" />
<polygon points="555.3,418.0 556.09,419.81 558.06,420.0 556.58,421.32 557.0,423.25 555.3,422.25 553.6,423.25 554.02,421.32 552.54,420.0 554.51,419.81" fill="#111" />
<line x1="666.7" y1="433" x2="732" y2="433" stroke="#555" stroke-width="1.1"/>
<polygon points="696.3,420.8 697.09,422.61 699.06,422.8 697.58,424.12 698.0,426.05 696.3,425.05 694.6,426.05 695.02,424.12 693.54,422.8 695.51,422.61" fill="#111" />
<polygon points="701.9,420.8 702.69,422.61 704.66,422.8 703.18,424.12 703.6,426.05 701.9,425.05 700.2,426.05 700.62,424.12 699.14,422.8 701.11,422.61" fill="#111" />
<text x="403.2" y="540.1" font-size="11.2" text-anchor="end" font-weight="normal" fill="#111" stroke="#111" stroke-width="0.35" textLength="67.6" lengthAdjust="spacingAndGlyphs" >NGF/Noc-18</text>
<text x="403.2" y="556.7" font-size="11.2" text-anchor="end" font-weight="normal" fill="#111" stroke="#111" stroke-width="0.35" textLength="42.8" lengthAdjust="spacingAndGlyphs" >MAG-Fc</text>
<text x="403.2" y="573.0" font-size="11.2" text-anchor="end" font-weight="normal" fill="#111" stroke="#111" stroke-width="0.35" textLength="47" lengthAdjust="spacingAndGlyphs" >Y-27632</text>
<rect x="419.2" y="535.1" width="4" height="1.4" fill="#111" />
<rect x="453.2" y="535.15" width="4.8" height="1.3" fill="#111" />
<rect x="454.95" y="533.4" width="1.3" height="4.8" fill="#111" />
<rect x="486.2" y="535.15" width="4.8" height="1.3" fill="#111" />
<rect x="487.95" y="533.4" width="1.3" height="4.8" fill="#111" />
<rect x="519.8" y="535.1" width="4" height="1.4" fill="#111" />
<rect x="552.8" y="535.15" width="4.8" height="1.3" fill="#111" />
<rect x="554.55" y="533.4" width="1.3" height="4.8" fill="#111" />
<rect x="586.5" y="535.1" width="4" height="1.4" fill="#111" />
<rect x="419.2" y="551.9" width="4" height="1.4" fill="#111" />
<rect x="453.6" y="551.9" width="4" height="1.4" fill="#111" />
<rect x="486.2" y="551.95" width="4.8" height="1.3" fill="#111" />
<rect x="487.95" y="550.2" width="1.3" height="4.8" fill="#111" />
<rect x="519.4" y="551.95" width="4.8" height="1.3" fill="#111" />
<rect x="521.15" y="550.2" width="1.3" height="4.8" fill="#111" />
<rect x="552.8" y="551.95" width="4.8" height="1.3" fill="#111" />
<rect x="554.55" y="550.2" width="1.3" height="4.8" fill="#111" />
<rect x="586.5" y="551.9" width="4" height="1.4" fill="#111" />
<rect x="419.2" y="567.1" width="4" height="1.4" fill="#111" />
<rect x="453.6" y="567.1" width="4" height="1.4" fill="#111" />
<rect x="486.6" y="567.1" width="4" height="1.4" fill="#111" />
<rect x="519.8" y="567.1" width="4" height="1.4" fill="#111" />
<rect x="552.8" y="567.15" width="4.8" height="1.3" fill="#111" />
<rect x="554.55" y="565.4" width="1.3" height="4.8" fill="#111" />
<rect x="586.1" y="567.15" width="4.8" height="1.3" fill="#111" />
<rect x="587.85" y="565.4" width="1.3" height="4.8" fill="#111" />
<rect x="636.9" y="535.1" width="4" height="1.4" fill="#111" />
<rect x="677.6" y="535.15" width="4.8" height="1.3" fill="#111" />
<rect x="679.35" y="533.4" width="1.3" height="4.8" fill="#111" />
<rect x="717.7" y="535.15" width="4.8" height="1.3" fill="#111" />
<rect x="719.45" y="533.4" width="1.3" height="4.8" fill="#111" />
<rect x="758.2" y="535.1" width="4" height="1.4" fill="#111" />
<rect x="636.9" y="551.9" width="4" height="1.4" fill="#111" />
<rect x="678" y="551.9" width="4" height="1.4" fill="#111" />
<rect x="717.7" y="551.95" width="4.8" height="1.3" fill="#111" />
<rect x="719.45" y="550.2" width="1.3" height="4.8" fill="#111" />
<rect x="757.8" y="551.95" width="4.8" height="1.3" fill="#111" />
<rect x="759.55" y="550.2" width="1.3" height="4.8" fill="#111" />
<rect x="636.9" y="567.1" width="4" height="1.4" fill="#111" />
<rect x="678" y="567.1" width="4" height="1.4" fill="#111" />
<rect x="718.1" y="567.1" width="4" height="1.4" fill="#111" />
<rect x="758.2" y="567.1" width="4" height="1.4" fill="#111" />
<line x1="625.6" y1="576" x2="773.8" y2="576" stroke="#888" stroke-width="1.2"/>
<text x="700.5" y="587.9" font-size="10.5" text-anchor="middle" font-weight="normal" fill="#111" stroke="#111" stroke-width="0.35" textLength="76" lengthAdjust="spacingAndGlyphs" >C3 transferase</text>
<line x1="395.4" y1="600.2" x2="395.4" y2="754.5" stroke="#2a2a2a" stroke-width="1.3"/>
<line x1="392.9" y1="624.7" x2="395.4" y2="624.7" stroke="#2a2a2a" stroke-width="1"/>
<text x="386.2" y="628.1" font-size="9.9" text-anchor="end" font-weight="normal" fill="#111" stroke="#111" stroke-width="0.35" textLength="16.6" lengthAdjust="spacingAndGlyphs" >100</text>
<line x1="392.9" y1="650.5600000000001" x2="395.4" y2="650.5600000000001" stroke="#2a2a2a" stroke-width="1"/>
<text x="386.2" y="653.96" font-size="9.9" text-anchor="end" font-weight="normal" fill="#111" stroke="#111" stroke-width="0.35" textLength="12" lengthAdjust="spacingAndGlyphs" >80</text>
<line x1="392.9" y1="676.4200000000001" x2="395.4" y2="676.4200000000001" stroke="#2a2a2a" stroke-width="1"/>
<text x="386.2" y="679.82" font-size="9.9" text-anchor="end" font-weight="normal" fill="#111" stroke="#111" stroke-width="0.35" textLength="12" lengthAdjust="spacingAndGlyphs" >60</text>
<line x1="392.9" y1="702.28" x2="395.4" y2="702.28" stroke="#2a2a2a" stroke-width="1"/>
<text x="386.2" y="705.68" font-size="9.9" text-anchor="end" font-weight="normal" fill="#111" stroke="#111" stroke-width="0.35" textLength="12" lengthAdjust="spacingAndGlyphs" >40</text>
<line x1="392.9" y1="728.14" x2="395.4" y2="728.14" stroke="#2a2a2a" stroke-width="1"/>
<text x="386.2" y="731.54" font-size="9.9" text-anchor="end" font-weight="normal" fill="#111" stroke="#111" stroke-width="0.35" textLength="12" lengthAdjust="spacingAndGlyphs" >20</text>
<line x1="392.9" y1="754.0" x2="395.4" y2="754.0" stroke="#2a2a2a" stroke-width="1"/>
<text x="386.2" y="757.4" font-size="9.9" text-anchor="end" font-weight="normal" fill="#111" stroke="#111" stroke-width="0.35" textLength="6" lengthAdjust="spacingAndGlyphs" >0</text>
<text x="0" y="0" font-size="12" text-anchor="middle" fill="#111" transform="translate(355,689.4) rotate(-90)" dominant-baseline="central" stroke="#111" stroke-width="0.35" textLength="77" lengthAdjust="spacingAndGlyphs">% MNs Count</text>
<line x1="422.2" y1="623.3" x2="422.2" y2="624.4" stroke="#7c7c7c" stroke-width="1"/>
<line x1="419.7" y1="623.3" x2="424.7" y2="623.3" stroke="#7c7c7c" stroke-width="1"/>
<rect x="413.4" y="624.4" width="17.600000000000023" height="129.60000000000002" fill="url(#stip)" stroke="#7c7c7c" stroke-width="1" />
<line x1="455.55" y1="679.3" x2="455.55" y2="688.3" stroke="#7c7c7c" stroke-width="1"/>
<line x1="453.05" y1="679.3" x2="458.05" y2="679.3" stroke="#7c7c7c" stroke-width="1"/>
<rect x="447" y="688.3" width="17.100000000000023" height="65.70000000000005" fill="url(#stip)" stroke="#7c7c7c" stroke-width="1" />
<line x1="488.8" y1="622.6" x2="488.8" y2="629.1" stroke="#7c7c7c" stroke-width="1"/>
<line x1="486.3" y1="622.6" x2="491.3" y2="622.6" stroke="#7c7c7c" stroke-width="1"/>
<rect x="480.3" y="629.1" width="17.0" height="124.89999999999998" fill="url(#stip)" stroke="#7c7c7c" stroke-width="1" />
<line x1="521.95" y1="631.4" x2="521.95" y2="636.5" stroke="#7c7c7c" stroke-width="1"/>
<line x1="519.45" y1="631.4" x2="524.45" y2="631.4" stroke="#7c7c7c" stroke-width="1"/>
<rect x="513.2" y="636.5" width="17.5" height="117.5" fill="url(#stip)" stroke="#7c7c7c" stroke-width="1" />
<line x1="555.3" y1="666.4" x2="555.3" y2="679" stroke="#7c7c7c" stroke-width="1"/>
<line x1="552.8" y1="666.4" x2="557.8" y2="666.4" stroke="#7c7c7c" stroke-width="1"/>
<rect x="546.7" y="679" width="17.199999999999932" height="75" fill="url(#stip)" stroke="#7c7c7c" stroke-width="1" />
<line x1="588.75" y1="611.1" x2="588.75" y2="616.7" stroke="#7c7c7c" stroke-width="1"/>
<line x1="586.25" y1="611.1" x2="591.25" y2="611.1" stroke="#7c7c7c" stroke-width="1"/>
<rect x="580.1" y="616.7" width="17.299999999999955" height="137.29999999999995" fill="url(#stip)" stroke="#7c7c7c" stroke-width="1" />
<line x1="394.8" y1="754" x2="615.8" y2="754" stroke="#2a2a2a" stroke-width="1.3"/>
<polygon points="452.7,668.4 453.49,670.21 455.46,670.4 453.98,671.72 454.4,673.65 452.7,672.65 451.0,673.65 451.42,671.72 449.94,670.4 451.91,670.21" fill="#111" />
<polygon points="458.2,668.4 458.99,670.21 460.96,670.4 459.48,671.72 459.9,673.65 458.2,672.65 456.5,673.65 456.92,671.72 455.44,670.4 457.41,670.21" fill="#111" />
<polygon points="552.7,654.2 553.49,656.01 555.46,656.2 553.98,657.52 554.4,659.45 552.7,658.45 551.0,659.45 551.42,657.52 549.94,656.2 551.91,656.01" fill="#111" />
<polygon points="558.4,654.2 559.19,656.01 561.16,656.2 559.68,657.52 560.1,659.45 558.4,658.45 556.7,659.45 557.12,657.52 555.64,656.2 557.61,656.01" fill="#111" />
<text x="403.2" y="773.0" font-size="11.2" text-anchor="end" font-weight="normal" fill="#111" stroke="#111" stroke-width="0.35" textLength="67.6" lengthAdjust="spacingAndGlyphs" >NGF/Noc-18</text>
<text x="403.2" y="789.8" font-size="11.2" text-anchor="end" font-weight="normal" fill="#111" stroke="#111" stroke-width="0.35" textLength="42.8" lengthAdjust="spacingAndGlyphs" >MAG-Fc</text>
<text x="403.2" y="805.6" font-size="11.2" text-anchor="end" font-weight="normal" fill="#111" stroke="#111" stroke-width="0.35" textLength="47" lengthAdjust="spacingAndGlyphs" >Y-27632</text>
<rect x="419.2" y="767.7" width="4" height="1.4" fill="#111" />
<rect x="453.9" y="767.75" width="4.8" height="1.3" fill="#111" />
<rect x="455.65" y="766.0" width="1.3" height="4.8" fill="#111" />
<rect x="486.6" y="767.75" width="4.8" height="1.3" fill="#111" />
<rect x="488.35" y="766.0" width="1.3" height="4.8" fill="#111" />
<rect x="520" y="767.7" width="4" height="1.4" fill="#111" />
<rect x="552.8" y="767.75" width="4.8" height="1.3" fill="#111" />
<rect x="554.55" y="766.0" width="1.3" height="4.8" fill="#111" />
<rect x="587.3" y="767.7" width="4" height="1.4" fill="#111" />
<rect x="419.2" y="784.5" width="4" height="1.4" fill="#111" />
<rect x="454.3" y="784.5" width="4" height="1.4" fill="#111" />
<rect x="486.6" y="784.55" width="4.8" height="1.3" fill="#111" />
<rect x="488.35" y="782.8" width="1.3" height="4.8" fill="#111" />
<rect x="519.6" y="784.55" width="4.8" height="1.3" fill="#111" />
<rect x="521.35" y="782.8" width="1.3" height="4.8" fill="#111" />
<rect x="552.8" y="784.55" width="4.8" height="1.3" fill="#111" />
<rect x="554.55" y="782.8" width="1.3" height="4.8" fill="#111" />
<rect x="587.3" y="784.5" width="4" height="1.4" fill="#111" />
<rect x="419.2" y="799.5" width="4" height="1.4" fill="#111" />
<rect x="454.3" y="799.5" width="4" height="1.4" fill="#111" />
<rect x="487" y="799.5" width="4" height="1.4" fill="#111" />
<rect x="520" y="799.5" width="4" height="1.4" fill="#111" />
<rect x="552.8" y="799.55" width="4.8" height="1.3" fill="#111" />
<rect x="554.55" y="797.8" width="1.3" height="4.8" fill="#111" />
<rect x="586.9" y="799.55" width="4.8" height="1.3" fill="#111" />
<rect x="588.65" y="797.8" width="1.3" height="4.8" fill="#111" />
</svg></body></html>
